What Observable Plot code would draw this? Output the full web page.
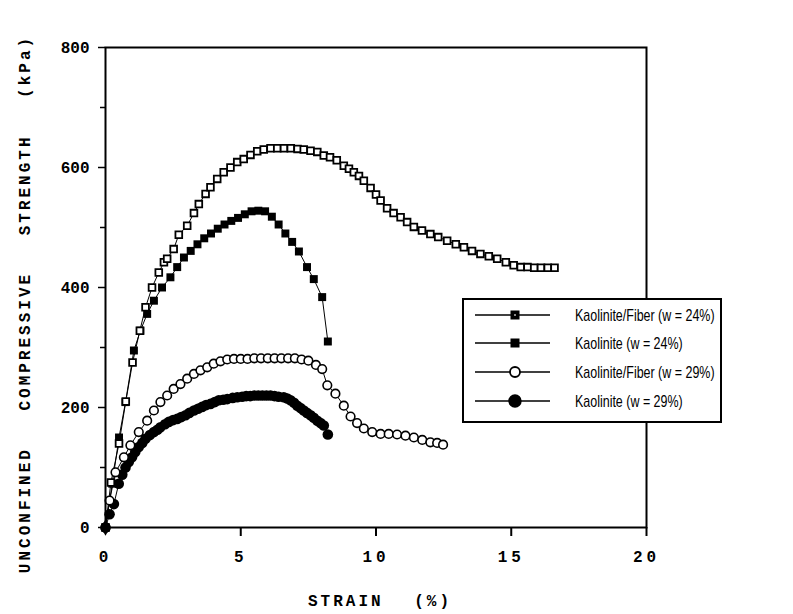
<!DOCTYPE html>
<html>
<head>
<meta charset="utf-8">
<script src="https://cdn.jsdelivr.net/npm/d3@7"></script>
<script src="https://cdn.jsdelivr.net/npm/@observablehq/plot@0.6"></script>
<style>
  html, body { margin: 0; padding: 0; background: #fff; }
  #chart { position: relative; width: 793px; height: 614px; }
  g[aria-label="x-axis tick label"] text { letter-spacing: 4px; }
</style>
</head>
<body>
<div id="chart"></div>
<script>
// Unconfined compression tests: strain (%) against strength (kPa)
const seriesNames = [
  "Kaolinite/Fiber (w = 24%)",
  "Kaolinite (w = 24%)",
  "Kaolinite/Fiber (w = 29%)",
  "Kaolinite (w = 29%)"
];

const fiber24Strain = [0, 0.2, 0.5, 0.75, 1.0, 1.27, 1.48, 1.72, 1.97, 2.16, 2.28, 2.52, 2.71, 3.02, 3.27, 3.45, 3.7, 3.88, 4.13, 4.37, 4.62, 4.87, 5.11, 5.36, 5.61, 5.85, 6.1, 6.35, 6.6, 6.85, 7.1, 7.33, 7.58, 7.83, 8.07, 8.3, 8.55, 8.81, 9.0, 9.18, 9.37, 9.55, 9.8, 10.0, 10.17, 10.41, 10.65, 10.91, 11.15, 11.4, 11.7, 12.01, 12.3, 12.63, 12.95, 13.25, 13.55, 13.86, 14.17, 14.48, 14.8, 15.09, 15.35, 15.6, 15.85, 16.1, 16.35, 16.6];
const fiber24Kpa = [0, 75, 140, 210, 275, 328, 367, 400, 425, 442, 448, 464, 488, 503, 524, 539, 556, 567, 581, 592, 600, 609, 614, 621, 627, 630, 632, 632, 632, 632, 631, 630, 628, 626, 620, 617, 612, 603, 598, 592, 586, 578, 566, 555, 545, 532, 524, 517, 509, 501, 495, 489, 484, 478, 472, 467, 461, 456, 452, 448, 442, 437, 434, 434, 433, 433, 433, 433];

const kao24Strain = [0, 0.25, 0.5, 0.74, 1.05, 1.29, 1.54, 1.79, 2.09, 2.4, 2.65, 2.9, 3.15, 3.4, 3.65, 3.9, 4.15, 4.4, 4.65, 4.9, 5.15, 5.4, 5.65, 5.9, 6.15, 6.4, 6.65, 6.9, 7.15, 7.45, 7.7, 8.01, 8.22];
const kao24Kpa = [0, 73, 150, 209, 295, 328, 356, 378, 400, 417, 434, 450, 461, 472, 482, 490, 498, 505, 511, 516, 522, 527, 528, 527, 518, 505, 490, 476, 460, 434, 414, 384, 310];

const fiber29Strain = [0, 0.15, 0.37, 0.68, 0.92, 1.23, 1.54, 1.79, 2.03, 2.28, 2.52, 2.77, 3.02, 3.27, 3.51, 3.76, 4.0, 4.25, 4.5, 4.75, 5.0, 5.25, 5.5, 5.75, 6.0, 6.25, 6.5, 6.75, 7.0, 7.25, 7.5, 7.78, 8.01, 8.2, 8.5, 8.81, 9.06, 9.3, 9.55, 9.86, 10.17, 10.47, 10.78, 11.09, 11.4, 11.71, 12.01, 12.26, 12.48];
const fiber29Kpa = [0, 45, 92, 117, 137, 159, 178, 195, 209, 220, 231, 239, 248, 256, 262, 267, 273, 277, 280, 281, 281, 281, 282, 282, 282, 282, 282, 282, 282, 280, 278, 271, 264, 237, 223, 203, 185, 174, 165, 159, 156, 156, 155, 153, 150, 146, 142, 141, 138];

const kao29Strain = [0, 0.15, 0.31, 0.49, 0.62, 0.74, 0.86, 0.98, 1.1, 1.23, 1.36, 1.48, 1.64, 1.79, 1.92, 2.03, 2.2, 2.34, 2.5, 2.65, 2.8, 2.96, 3.1, 3.27, 3.42, 3.57, 3.72, 3.88, 4.04, 4.19, 4.35, 4.5, 4.7, 4.87, 5.05, 5.2, 5.35, 5.5, 5.65, 5.8, 5.95, 6.1, 6.25, 6.4, 6.59, 6.72, 6.84, 6.97, 7.09, 7.21, 7.33, 7.45, 7.58, 7.7, 7.83, 7.95, 8.07, 8.22];
const kao29Kpa = [0, 22, 39, 73, 88, 100, 109, 117, 126, 134, 141, 148, 154, 159, 163, 167, 172, 176, 179, 181, 184, 187, 191, 195, 198, 201, 204, 206, 209, 212, 213, 214, 216, 217, 218, 219, 219, 220, 220, 220, 220, 220, 219, 218, 217, 215, 212, 208, 203, 199, 195, 191, 187, 183, 178, 174, 170, 155];

const xTicks = [0, 5, 10, 15, 20];
const yTicks = [0, 200, 400, 600, 800];
const yMinorTicks = [100, 300, 500, 700];

const toRows = (name, xs, ys) => xs.map((x, i) => ({series: name, strain: x, kpa: ys[i]}));
const fiber24 = toRows(seriesNames[0], fiber24Strain, fiber24Kpa);
const kao24 = toRows(seriesNames[1], kao24Strain, kao24Kpa);
const fiber29 = toRows(seriesNames[2], fiber29Strain, fiber29Kpa);
const kao29 = toRows(seriesNames[3], kao29Strain, kao29Kpa);
const all = [...fiber24, ...kao24, ...fiber29, ...kao29];
// every test starts from the unloaded state
const origin = all.filter(d => d.strain === 0 && d.kpa === 0).slice(0, 1);

const mono = "'Liberation Mono', 'Courier New', monospace";
const sans = "'Liberation Sans Narrow', 'Arial Narrow', 'Liberation Sans', Arial, sans-serif";

const chart = Plot.plot({
  width: 793,
  height: 614,
  marginLeft: 105,
  marginRight: 147,
  marginTop: 47,
  marginBottom: 87,
  style: {fontFamily: mono, fontWeight: "bold", fontSize: "16px", background: "#fff", color: "#000"},
  x: {domain: [0, 20]},
  y: {domain: [0, 800]},
  marks: [
    Plot.axisY(yTicks, {tickSize: 7, tickPadding: 9, label: null, strokeWidth: 1.5}),
    Plot.axisY(yMinorTicks, {tickSize: 5, tickFormat: () => "", label: null, strokeWidth: 1.5}),
    Plot.axisX(xTicks.slice(1), {tickSize: 9, tickPadding: 14, label: null, strokeWidth: 2}),
    Plot.axisX([0], {tickSize: 0, tickPadding: 23, label: null}),
    Plot.line(all, {x: "strain", y: "kpa", z: "series", stroke: "#000", strokeWidth: 1}),
    Plot.dot(kao29, {x: "strain", y: "kpa", r: 5.3, fill: "#000", stroke: "none"}),
    Plot.dot(fiber29, {x: "strain", y: "kpa", r: 4.3, fill: "#fff", stroke: "#000", strokeWidth: 1.6}),
    Plot.dot(kao24, {x: "strain", y: "kpa", symbol: "square", r: 4.5, fill: "#000", stroke: "none"}),
    Plot.dot(fiber24, {x: "strain", y: "kpa", symbol: "square", r: 3.8, fill: "#fff", stroke: "#000", strokeWidth: 1.8}),
    Plot.frame({stroke: "#000", strokeWidth: 2}),
    Plot.dot(origin, {x: "strain", y: "kpa", symbol: "diamond", r: 5, fill: "#000", stroke: "none"})
  ]
});

const svg = d3.select(chart);
svg.style("overflow", "visible");

// Axis titles
svg.append("text")
  .attr("transform", "translate(26,304) rotate(-90)")
  .attr("text-anchor", "middle")
  .attr("dominant-baseline", "middle")
  .style("font-family", mono).style("font-weight", "bold").style("font-size", "16px")
  .style("letter-spacing", "3px").style("word-spacing", "24px")
  .text("UNCONFINED COMPRESSIVE STRENGTH (kPa)");

svg.append("text")
  .attr("x", 380).attr("y", 606)
  .attr("text-anchor", "middle")
  .style("font-family", mono).style("font-weight", "bold").style("font-size", "16px")
  .style("letter-spacing", "3px").style("word-spacing", "18px")
  .text("STRAIN (%)");

// Legend
const lg = svg.append("g").attr("aria-label", "legend");
lg.append("rect")
  .attr("x", 463).attr("y", 299).attr("width", 258).attr("height", 123)
  .attr("fill", "#fff").attr("stroke", "#000").attr("stroke-width", 2);
const rowY = [315, 343, 372, 401];
const legendMarks = [
  {shape: "square", fill: "#000", size: 9, inner: true},
  {shape: "square", fill: "#000", size: 9},
  {shape: "circle", fill: "#fff", size: 5},
  {shape: "circle", fill: "#000", size: 5.8}
];
seriesNames.forEach((name, i) => {
  const y = rowY[i];
  const m = legendMarks[i];
  lg.append("line").attr("x1", 475).attr("x2", 550).attr("y1", y).attr("y2", y)
    .attr("stroke", "#000").attr("stroke-width", 1.5);
  if (m.shape === "square") {
    lg.append("rect").attr("x", 515 - m.size / 2).attr("y", y - m.size / 2)
      .attr("width", m.size).attr("height", m.size).attr("fill", m.fill);
    if (m.inner) lg.append("rect").attr("x", 514).attr("y", y - 1).attr("width", 2).attr("height", 2).attr("fill", "#888");
  } else {
    lg.append("circle").attr("cx", 515).attr("cy", y).attr("r", m.size)
      .attr("fill", m.fill).attr("stroke", "#000").attr("stroke-width", 1.8);
  }
  // condensed label text
  lg.append("text")
    .attr("transform", `translate(575,${y}) scale(0.78,1)`)
    .attr("text-anchor", "start")
    .attr("dy", "0.35em")
    .style("font-family", sans).style("font-weight", "normal").style("font-size", "16px")
    .text(name);
});

document.getElementById("chart").appendChild(chart);
</script>
</body>
</html>
